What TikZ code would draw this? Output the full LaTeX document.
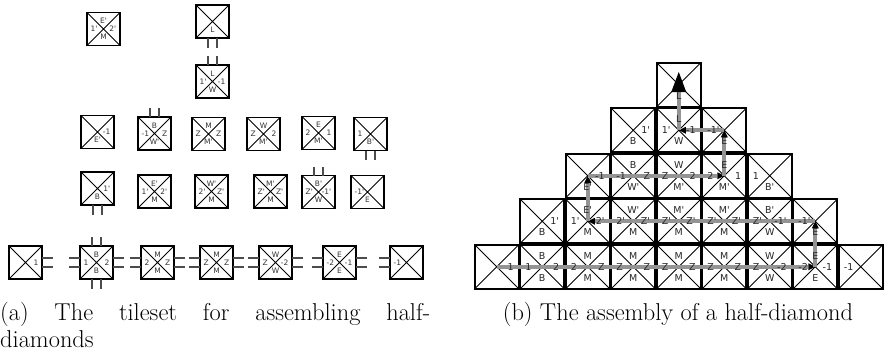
\documentclass[tikz,border=0pt]{standalone}
\usepackage{fontspec}
\newfontfamily\lblfont{DejaVu Sans}
\usetikzlibrary{calc,arrows.meta}
\pgfdeclarelayer{front}
\pgfsetlayers{main,front}
\tikzset{
  tilea/.style={draw=black, line width=1.8pt, minimum size=33pt, inner sep=0pt, outer sep=0pt, fill=white},
  tileb/.style={draw=black, line width=2.2pt, minimum size=44pt, inner sep=0pt, outer sep=0pt},
  diag/.style={line width=0.8pt, black},
  lbla/.style={font=\lblfont\fontsize{7.5}{8}\selectfont, inner sep=0pt, text=black!80},
  lblb/.style={font=\lblfont\fontsize{9.5}{10}\selectfont, inner sep=0pt, text=black!85},
  glue/.style={line width=1.4pt, black!70},
  gseg/.style={line width=3.8pt, black!42, -{Triangle[length=7pt,width=7pt,line width=0pt,color=black]}},
  gbig/.style={line width=3.8pt, black!42, -{Triangle[length=20pt,width=15pt,line width=0pt,color=black]}},
  capfont/.style={font=\fontsize{24.4}{27}\selectfont, inner sep=0pt}
}
\newcommand\tileA[7]{%
  \node[tilea] (#1) at (#2,#3) {};
  \draw[diag] (#1.north west) -- (#1.south east) (#1.north east) -- (#1.south west);
  \node[lbla] (#1t) at ($(#1.north)+(0,-8.5pt)$) {#4};
  \node[lbla, anchor=west] (#1l) at ($(#1.west)+(3.5pt,0)$) {#5};
  \node[lbla, anchor=east] (#1r) at ($(#1.east)+(-3.5pt,0)$) {#6};
  \node[lbla] (#1b) at ($(#1.south)+(0,8.5pt)$) {#7};
}
\newcommand\tileB[7]{%
  \node[tileb] (#1) at (#2,#3) {};
  \draw[diag] (#1.north west) -- (#1.south east) (#1.north east) -- (#1.south west);
  \begin{pgfonlayer}{front}
  \node[lblb] (#1t) at ($(#1.north)+(0,-11pt)$) {#4};
  \node[lblb, anchor=west] (#1l) at ($(#1.west)+(5pt,0)$) {#5};
  \node[lblb, anchor=east] (#1r) at ($(#1.east)+(-5pt,0)$) {#6};
  \node[lblb] (#1b) at ($(#1.south)+(0,11pt)$) {#7};
  \end{pgfonlayer}
}
\newcommand\glueN[1]{\draw[glue] ([xshift=-4.5pt]#1.north) -- ++(0,9pt) ([xshift=4.5pt]#1.north) -- ++(0,9pt);}
\newcommand\glueS[1]{\draw[glue] ([xshift=-4.5pt]#1.south) -- ++(0,-9.5pt) ([xshift=4.5pt]#1.south) -- ++(0,-9.5pt);}
\newcommand\glueE[1]{\draw[glue] ([yshift=4.5pt]#1.east) -- ++(11pt,0) ([yshift=-4.5pt]#1.east) -- ++(11pt,0);}
\newcommand\glueW[1]{\draw[glue] ([yshift=4.5pt]#1.west) -- ++(-11pt,0) ([yshift=-4.5pt]#1.west) -- ++(-11pt,0);}
\begin{document}
\begin{tikzpicture}[x=1pt,y=-1pt]
\useasboundingbox (0,0) rectangle (889,356);
% ---------- panel (a) ----------
\tileA{a1}{103.5}{29}{E'}{1'}{2'}{M}
\tileA{aL}{212.5}{21.5}{}{}{}{L}
\tileA{aLW}{212.5}{81.5}{L}{1'}{-1}{W}
\glueS{aL}\glueN{aLW}
% row 2
\tileA{p1}{97.5}{132}{}{}{-1}{E'}
\tileA{p2}{154.5}{133.5}{B}{-1}{Z}{W'}
\tileA{p3}{208.5}{134}{M}{Z}{Z}{M'}
\tileA{p4}{263.5}{134}{W}{Z}{2}{M'}
\tileA{p5}{318.5}{133}{E}{2}{1}{M'}
\tileA{p6}{370.5}{134}{}{1}{}{B'}
\glueN{p2}\glueS{p6}
% row 3
\tileA{q1}{97.5}{188.5}{}{}{1'}{B}
\tileA{q2}{154.5}{191.5}{E'}{1'}{2'}{M}
\tileA{q3}{211.5}{191.5}{W'}{2'}{Z'}{M}
\tileA{q4}{270.5}{191.5}{M'}{Z'}{Z'}{M}
\tileA{q5}{318.5}{192}{B'}{Z'}{-1'}{W}
\tileA{q6}{367.5}{192}{}{-1'}{}{E}
\glueS{q1}\glueN{q5}
% row 4
\tileA{s1}{25.5}{262.5}{}{}{1}{}
\tileA{s2}{96.5}{262.5}{B}{1}{2}{B}
\tileA{s3}{157.5}{262.5}{M}{2}{Z}{M}
\tileA{s4}{216.5}{262.5}{M}{Z}{Z}{M}
\tileA{s5}{275.5}{262.5}{W}{Z}{-2}{W}
\tileA{s6}{339.5}{262.5}{E}{-2}{-1}{E}
\tileA{s7}{406.5}{262.5}{}{-1}{}{}
\glueE{s1}
\glueN{s2}\glueS{s2}\glueW{s2}\glueE{s2}
\glueW{s3}\glueE{s3}
\glueW{s4}\glueE{s4}
\glueW{s5}\glueE{s5}
\glueW{s6}\glueE{s6}
\glueW{s7}
% ---------- panel (b) ----------
% row 0
\tileB{b00}{496.75}{266.75}{}{}{1}{}
\tileB{b01}{542.25}{266.75}{B}{1}{2}{B}
\tileB{b02}{587.75}{266.75}{M}{2}{Z}{M}
\tileB{b03}{633.25}{266.75}{M}{Z}{Z}{M}
\tileB{b04}{678.75}{266.75}{M}{Z}{Z}{M}
\tileB{b05}{724.25}{266.75}{M}{Z}{Z}{M}
\tileB{b06}{769.75}{266.75}{W}{Z}{-2}{W}
\tileB{b07}{815.25}{266.75}{E}{-2}{-1}{E}
\tileB{b08}{860.75}{266.75}{}{-1}{}{}
% row 1
\tileB{b11}{542.25}{221.25}{}{}{1'}{B}
\tileB{b12}{587.75}{221.25}{E'}{1'}{2'}{M}
\tileB{b13}{633.25}{221.25}{W'}{2'}{Z'}{M}
\tileB{b14}{678.75}{221.25}{M'}{Z'}{Z'}{M}
\tileB{b15}{724.25}{221.25}{M'}{Z'}{Z'}{M}
\tileB{b16}{769.75}{221.25}{B'}{Z'}{-1'}{W}
\tileB{b17}{815.25}{221.25}{}{-1'}{}{E}
% row 2
\tileB{b22}{587.75}{175.75}{}{}{-1}{E'}
\tileB{b23}{633.25}{175.75}{B}{-1}{Z}{W'}
\tileB{b24}{678.75}{175.75}{W}{Z}{2}{M'}
\tileB{b25}{724.25}{175.75}{E}{2}{1}{M'}
\tileB{b26}{769.75}{175.75}{}{1}{}{B'}
% row 3
\tileB{b33}{633.25}{130.25}{}{}{1'}{B}
\tileB{b34}{678.75}{130.25}{L}{1'}{-1}{W}
\tileB{b35}{724.25}{130.25}{}{-1'}{}{E}
% row 4
\tileB{b44}{678.75}{84.75}{}{}{}{L}
\coordinate (tip) at ($(b44.center)+(0,12.75pt)$);
% assembly path
\draw[gseg] (b00.center) -- (b07.center);
\draw[gseg] (b07.center) -- (b17.center);
\draw[gseg] (b17.center) -- (b12.center);
\draw[gseg] (b12.center) -- (b22.center);
\draw[gseg] (b22.center) -- (b25.center);
\draw[gseg] (b25.center) -- (b35.center);
\draw[gseg] (b35.center) -- (b34.center);
\draw[gbig] (b34.center) -- (tip);
% ---------- captions ----------
\node[capfont, anchor=north west, text width=430pt, align=justify] (capa) at (0,302) {\tolerance=10000 (a) The tileset for assembling half-\linebreak diamonds};
\node[capfont, anchor=base] (capb) at (678,320) {(b) The assembly of a half-diamond};
\end{tikzpicture}
\end{document}
